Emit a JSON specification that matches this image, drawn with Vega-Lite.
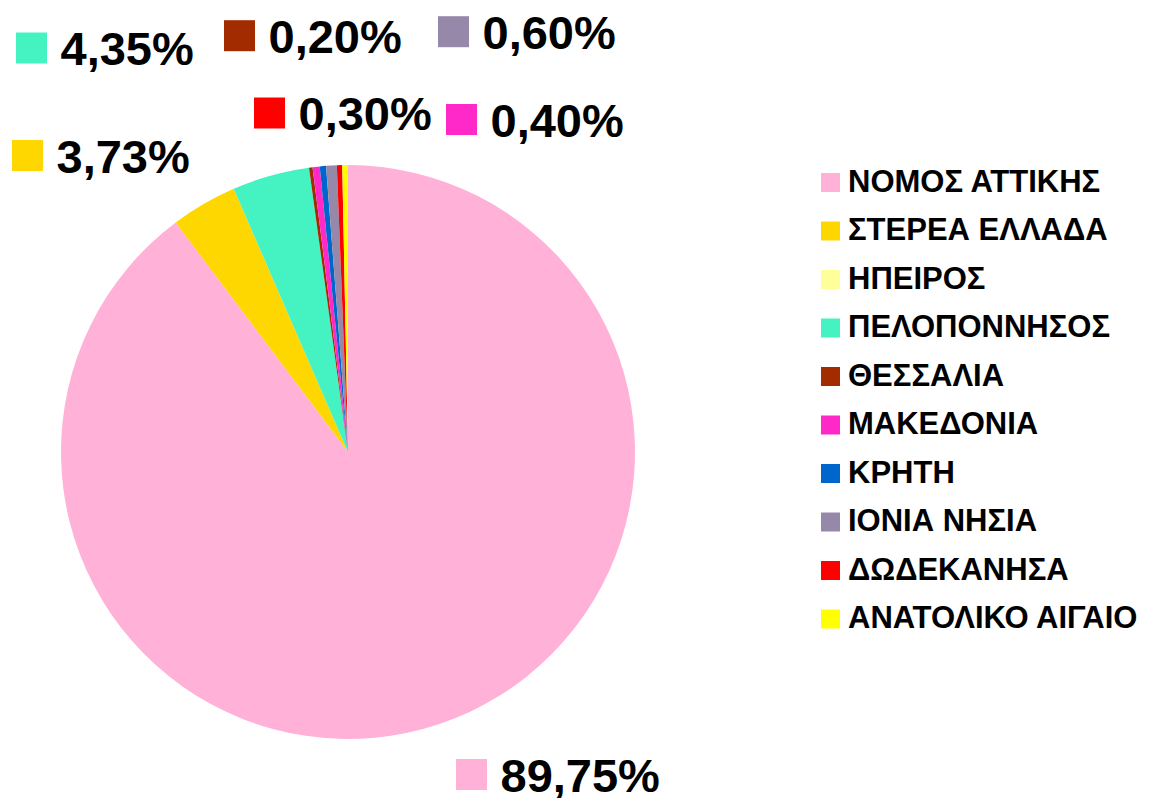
{
  "$schema": "https://vega.github.io/schema/vega-lite/v6.json",
  "width": 574,
  "height": 574,
  "autosize": {"type": "none"},
  "padding": {"left": 61, "top": 165, "right": 518, "bottom": 59},
  "background": "white",
  "config": {"view": {"stroke": null}},
  "data": {
    "values": [
      {"region": "ΝΟΜΟΣ ΑΤΤΙΚΗΣ", "value": 89.75, "order": 1, "label": "89,75%"},
      {"region": "ΣΤΕΡΕΑ ΕΛΛΑΔΑ", "value": 3.73, "order": 2, "label": "3,73%"},
      {"region": "ΗΠΕΙΡΟΣ", "value": 0.0, "order": 3, "label": null},
      {"region": "ΠΕΛΟΠΟΝΝΗΣΟΣ", "value": 4.35, "order": 4, "label": "4,35%"},
      {"region": "ΘΕΣΣΑΛΙΑ", "value": 0.2, "order": 5, "label": "0,20%"},
      {"region": "ΜΑΚΕΔΟΝΙΑ", "value": 0.4, "order": 6, "label": "0,40%"},
      {"region": "ΚΡΗΤΗ", "value": 0.35, "order": 7, "label": null},
      {"region": "ΙΟΝΙΑ ΝΗΣΙΑ", "value": 0.6, "order": 8, "label": "0,60%"},
      {"region": "ΔΩΔΕΚΑΝΗΣΑ", "value": 0.3, "order": 9, "label": "0,30%"},
      {"region": "ΑΝΑΤΟΛΙΚΟ ΑΙΓΑΙΟ", "value": 0.32, "order": 10, "label": null}
    ]
  },
  "layer": [
    {
      "mark": {"type": "arc", "stroke": null},
      "encoding": {
        "theta": {"field": "value", "type": "quantitative", "stack": true},
        "order": {"field": "order", "type": "quantitative"},
        "color": {
          "field": "region",
          "type": "nominal",
          "scale": {
            "domain": ["ΝΟΜΟΣ ΑΤΤΙΚΗΣ", "ΣΤΕΡΕΑ ΕΛΛΑΔΑ", "ΗΠΕΙΡΟΣ", "ΠΕΛΟΠΟΝΝΗΣΟΣ", "ΘΕΣΣΑΛΙΑ", "ΜΑΚΕΔΟΝΙΑ", "ΚΡΗΤΗ", "ΙΟΝΙΑ ΝΗΣΙΑ", "ΔΩΔΕΚΑΝΗΣΑ", "ΑΝΑΤΟΛΙΚΟ ΑΙΓΑΙΟ"],
            "range": ["#FFB1D8", "#FFD700", "#FFFF99", "#45F2C2", "#A32B00", "#FF28C8", "#0066CC", "#9688A8", "#FF0000", "#FFFF00"]
          },
          "legend": {
            "title": null,
            "orient": "none",
            "legendX": 754,
            "legendY": 2,
            "padding": 0,
            "symbolType": "square",
            "symbolSize": 361,
            "symbolStrokeWidth": 0,
            "symbolOpacity": 1,
            "labelFont": "Liberation Sans",
            "labelFontWeight": "bold",
            "labelFontSize": 31,
            "labelColor": "black",
            "labelOffset": 2,
            "labelLimit": 500,
            "rowPadding": 16.5
          }
        }
      }
    },
    {
      "transform": [{"filter": "datum.label != null"}],
      "mark": {"type": "point", "shape": "square", "filled": true, "size": 961, "opacity": 1},
      "encoding": {
        "x": {"field": "order", "type": "quantitative", "axis": null,
              "scale": {"domain": [1, 2, 4, 5, 6, 8, 9], "range": [410.5, -33.5, -29.5, 178.5, 400.5, 392.5, 208.5], "zero": false, "nice": false}},
        "y": {"field": "order", "type": "quantitative", "axis": null,
              "scale": {"domain": [1, 2, 4, 5, 6, 8, 9], "range": [609.5, -9.5, -117, -129.3, -45.5, -133.3, -52], "zero": false, "nice": false}},
        "color": {"field": "region", "type": "nominal", "legend": null}
      }
    },
    {
      "transform": [{"filter": "datum.label != null"}],
      "mark": {"type": "text", "align": "left", "baseline": "alphabetic", "dx": 29, "dy": 17, "font": "Liberation Sans", "fontWeight": "bold", "fontSize": 47, "color": "black"},
      "encoding": {
        "x": {"field": "order", "type": "quantitative", "axis": null},
        "y": {"field": "order", "type": "quantitative", "axis": null},
        "text": {"field": "label", "type": "nominal"}
      }
    }
  ]
}
